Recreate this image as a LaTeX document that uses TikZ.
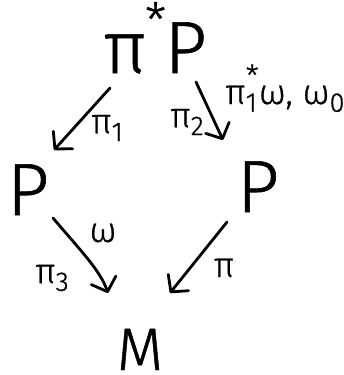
\documentclass[tikz,border=0pt]{standalone}
\usepackage{fontspec}
\newfontfamily\hand{Fira Sans Light}[FakeBold=0.8]
\usetikzlibrary{arrows.meta}
% small raised / lowered marks for indices
\newcommand{\lsub}[1]{\raisebox{-0.22em}{\fontsize{27}{27}\selectfont #1}}
\newcommand{\lsubsup}[2]{\rlap{\raisebox{-0.22em}{\fontsize{27}{27}\selectfont #1}}\raisebox{0.5em}{\fontsize{30}{30}\selectfont #2}}
\begin{document}
\begin{tikzpicture}[x=1pt,y=-1pt,
  big/.style={font=\hand\fontsize{74}{74}\selectfont, inner sep=0pt, text depth=0pt},
  lbl/.style={font=\hand\fontsize{35}{35}\selectfont, inner sep=0pt},
  arr/.style={line width=2.8pt, line cap=round, line join=round,
    -{Straight Barb[length=12pt,width=26pt,line cap=round,line join=round]}}]
\useasboundingbox (0,0) rectangle (344,375);

% objects
\node[big, anchor=base] (top) at (155,73)
  {π\kern-0.02em\raisebox{0.48em}{\fontsize{48}{48}\selectfont *}\kern-0.02em P};
\node[big, anchor=base] (left) at (28,215) {P};
\node[big, anchor=base] (right) at (258,212) {P};
\node[big, anchor=base, font=\hand\fontsize{60}{60}\selectfont] (bottom) at (140,370) {M};

% arrow ends
\coordinate (a1s) at (110,88);  \coordinate (a1e) at (54,150);
\coordinate (a2s) at (196,82);  \coordinate (a2e) at (223,140);
\coordinate (a3s) at (53,218);  \coordinate (a3e) at (108,293);
\coordinate (a4s) at (227,222); \coordinate (a4e) at (170,293);

\draw[arr] (a1s) -- (a1e);
\draw[arr] (a2s) -- (a2e);
\draw[arr] (a3s) .. controls (80,250) and (100,270) .. (a3e);
\draw[arr] (a4s) -- (a4e);

% labels
\node[lbl] (l1) at (107,128) {π\lsub{1}};
\node[lbl] (l2) at (187,122) {π\lsub{2}};
\node[lbl, anchor=base west] (l3) at (225,104) {π\lsubsup{1}{*}ω, ω\lsub{0}};
\node[lbl] (l4) at (103,233) {ω};
\node[lbl] (l5) at (52,278) {π\lsub{3}};
\node[lbl] (l6) at (224,268) {π};
\end{tikzpicture}
\end{document}
